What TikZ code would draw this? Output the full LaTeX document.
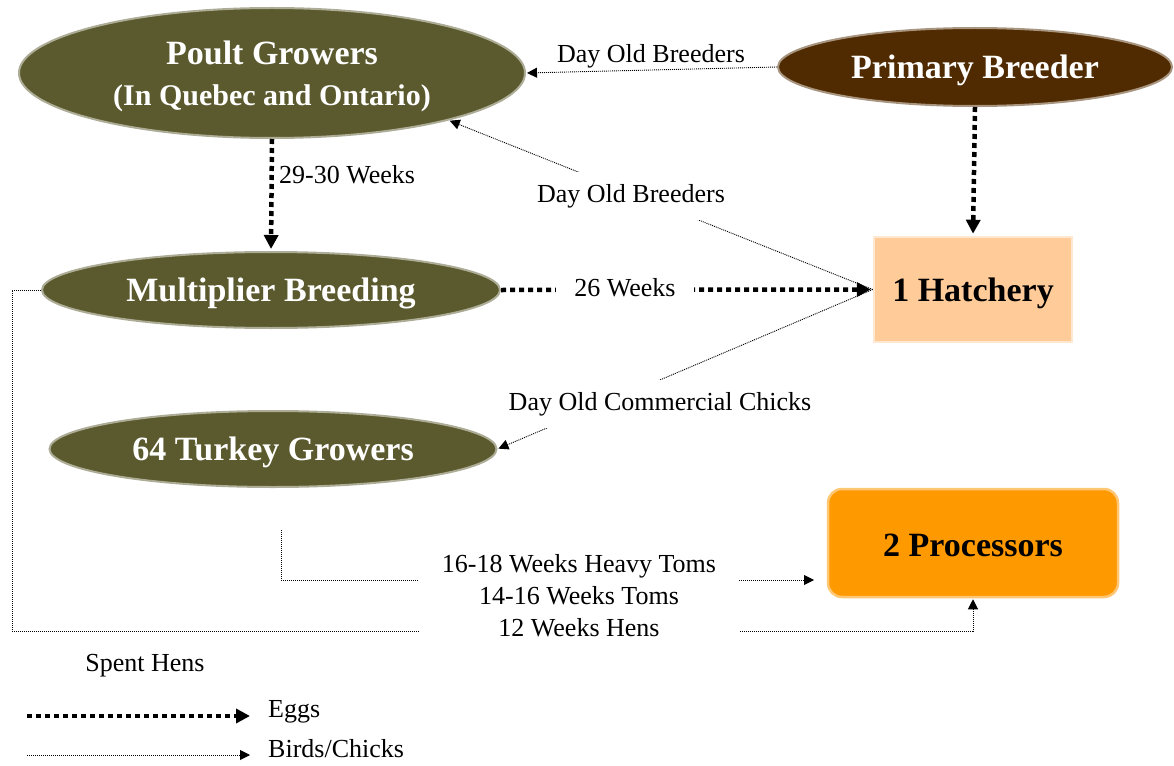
\documentclass[tikz,border=0pt]{standalone}
\usepackage{fontspec}
\setmainfont{Liberation Serif}
\usetikzlibrary{arrows.meta,shapes.geometric}
\definecolor{olivegreen}{RGB}{91,90,46}
\definecolor{darkbrown}{RGB}{80,42,0}
\definecolor{peach}{RGB}{255,204,153}
\definecolor{procorange}{RGB}{255,153,0}
\begin{document}
\begin{tikzpicture}[x=1pt,y=-1pt,
  oval/.style={ellipse, inner sep=0pt, fill=olivegreen, draw=olivegreen!50!white,
    line width=2pt, text=white, text depth=0pt,
    font=\bfseries\fontsize{34}{40}\selectfont},
  box/.style={rectangle, inner sep=0pt, line width=2.5pt, text=black,
    text depth=0pt, font=\bfseries\fontsize{34}{40}\selectfont},
  eggs/.style={line width=4.5pt, dash pattern=on 5pt off 4pt,
    -{Triangle[length=14pt,width=14pt]}, shorten >=2pt},
  birds/.style={line width=0.9pt, dash pattern=on 1pt off 1pt,
    -{Triangle[length=10pt,width=10pt]}, shorten >=1pt},
  lbl/.style={font=\fontsize{26}{32}\selectfont, inner sep=0pt}]
\useasboundingbox (0,0) rectangle (1174,765);

% stages of the supply chain
\node[oval, minimum width=506pt, minimum height=130pt, align=center,
  font=\bfseries\fontsize{30}{41}\selectfont] (poult) at (272,73)
  {{\fontsize{34}{41}\selectfont Poult Growers}\\(In Quebec and Ontario)};
\node[oval, fill=darkbrown, draw=darkbrown!50!white, minimum width=394pt,
  minimum height=78pt] (primary) at (975,67) {Primary Breeder};
\node[oval, minimum width=458pt, minimum height=76pt] (multi) at (271,290)
  {Multiplier Breeding};
\node[oval, minimum width=447pt, minimum height=76pt] (turkey) at (273,449)
  {64 Turkey Growers};
\node[box, fill=peach, draw=peach!45!white, minimum width=198pt,
  minimum height=105pt] (hatch) at (973,289.5) {1 Hatchery};
\node[box, fill=procorange, draw=procorange!55!white, rounded corners=14pt,
  minimum width=290pt, minimum height=108pt] (proc) at (973,543)
  {\raisebox{-5pt}{2 Processors}};

% flows of eggs and birds
\draw[birds] (primary.west) -- (poult.east);
\draw[birds] (hatch.west) -- (poult.-15);
\draw[birds] (hatch.west) -- (turkey.east);
\draw[eggs] (poult.south) -- (multi.north);
\draw[eggs] (primary.south) -- (hatch.north);
\draw[eggs] (multi.east) -- (hatch.west);

\coordinate (tgfoot) at (281,530);
\coordinate (procin) at (815,580);
\draw[birds] (tgfoot) |- (procin);
\draw[birds] (multi.west) -- (12,290) -- (12,631) -| (proc.south);

% labels
\node[lbl] (dob1) at (651,56) {Day Old Breeders};
\node[lbl, fill=white, inner xsep=6pt, inner ysep=12pt] (dob2) at (631,196)
  {Day Old Breeders};
\node[lbl, anchor=west] (w2930) at (279,175) {29-30 Weeks};
\node[lbl, fill=white, inner xsep=18pt, inner ysep=8pt] (w26) at (625,288)
  {26 Weeks};
\node[lbl, fill=white, inner xsep=4pt, inner ysep=12pt] (docc) at (660,404)
  {Day Old Commercial Chicks};
\node[lbl, fill=white, align=center, minimum width=320pt, inner ysep=6pt]
  (ages) at (579,596)
  {16-18 Weeks Heavy Toms\\14-16 Weeks Toms\\12 Weeks Hens};
\node[lbl] (spent) at (145,666) {Spent Hens};

% legend
\coordinate (eg0) at (27,716);
\coordinate (eg1) at (250,716);
\coordinate (bc0) at (27,755);
\coordinate (bc1) at (250,755);
\draw[eggs, shorten >=0pt] (eg0) -- (eg1);
\draw[birds, shorten >=0pt] (bc0) -- (bc1);
\node[lbl, anchor=west] (eggslbl) at (268,712) {Eggs};
\node[lbl, anchor=west] (birdslbl) at (268,749) {Birds/Chicks};
\end{tikzpicture}
\end{document}
